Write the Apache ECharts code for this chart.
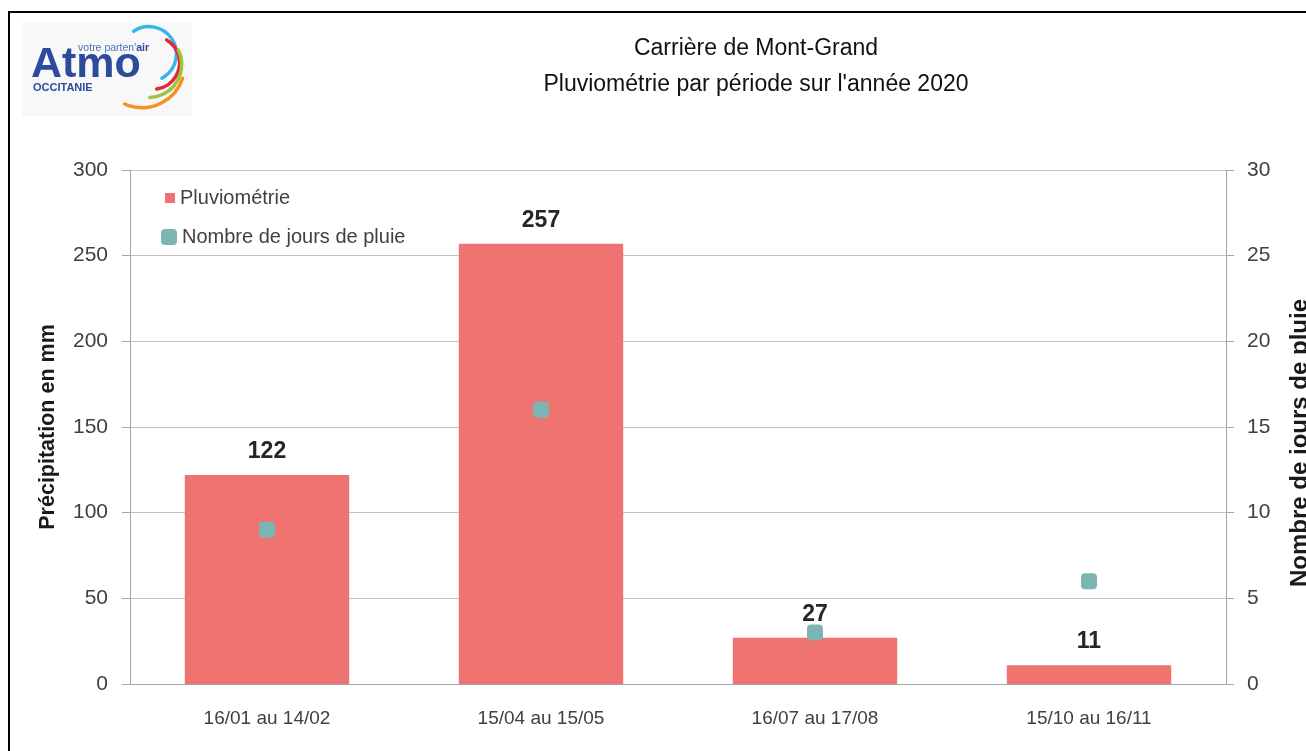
<!DOCTYPE html>
<html lang="fr">
<head>
    <meta charset="UTF-8">
    <title>Carrière de Mont-Grand</title>
    <style>
        * {
            margin: 0;
            padding: 0;
        }

        body {
            background-color: #fff;
        }

        #chart {
            width: 1306px;
            height: 751px;
        }
    </style>
</head>
<body>
<div id="chart"></div>
<script src="https://cdn.jsdelivr.net/npm/echarts@6/dist/echarts.min.js"></script>
<script>
    var categories = ['16/01 au 14/02', '15/04 au 15/05', '16/07 au 17/08', '15/10 au 16/11'];
    var pluviometrie = [122, 257, 27, 11];
    var joursPluie = [9, 16, 3, 6];

    var font = '"Liberation Sans", Arial, sans-serif';
    var deg = Math.PI / 180;

    var mychart = echarts.init(document.getElementById('chart'));
    mychart.setOption({
        backgroundColor: '#fff',
        animation: false,
        title: {
            text: 'Carrière de Mont-Grand\nPluviométrie par période sur l\'année 2020',
            left: 756,
            top: 31,
            padding: 0,
            textAlign: 'center',
            textStyle: {
                fontFamily: font,
                fontWeight: 'normal',
                fontSize: 23,
                lineHeight: 36,
                color: '#111'
            }
        },
        legend: [
            {
                data: ['Pluviométrie'],
                left: 165,
                top: 188,
                padding: 0,
                icon: 'rect',
                itemWidth: 10,
                itemHeight: 10,
                itemGap: 5,
                textStyle: {fontFamily: font, fontSize: 20, color: '#404040'}
            },
            {
                data: ['Nombre de jours de pluie'],
                left: 161,
                top: 227,
                padding: 0,
                icon: 'roundRect',
                itemWidth: 16,
                itemHeight: 16,
                itemGap: 5,
                itemStyle: {opacity: 1},
                textStyle: {fontFamily: font, fontSize: 20, color: '#404040'}
            }
        ],
        grid: {
            left: 130,
            right: 80,
            top: 170,
            bottom: 67,
            outerBoundsMode: 'none'
        },
        xAxis: {
            type: 'category',
            data: categories,
            axisLine: {lineStyle: {color: '#a6a6a6', width: 1}},
            axisTick: {length: 8, lineStyle: {color: '#a6a6a6'}},
            axisLabel: {fontFamily: font, fontSize: 19, color: '#404040', margin: 25}
        },
        yAxis: [
            {
                type: 'value',
                min: 0,
                max: 300,
                interval: 50,
                name: 'Précipitation en mm',
                nameLocation: 'middle',
                nameRotate: 90,
                nameGap: 71,
                nameTextStyle: {fontFamily: font, fontWeight: 'bold', fontSize: 21.5, color: '#1a1a1a'},
                axisLine: {show: true, lineStyle: {color: '#a6a6a6'}},
                axisTick: {show: true, length: 8, lineStyle: {color: '#a6a6a6'}},
                axisLabel: {fontFamily: font, fontSize: 21, color: '#404040', margin: 22},
                splitLine: {lineStyle: {color: '#c4c4c4'}}
            },
            {
                type: 'value',
                min: 0,
                max: 30,
                interval: 5,
                name: 'Nombre de jours de pluie',
                nameLocation: 'middle',
                nameRotate: 90,
                nameGap: 62,
                nameTextStyle: {
                    fontFamily: font, fontWeight: 'bold', fontSize: 24, color: '#1a1a1a',
                    padding: [0, 32, 0, 0]
                },
                axisLine: {show: true, lineStyle: {color: '#a6a6a6'}},
                axisTick: {show: true, length: 8, lineStyle: {color: '#a6a6a6'}},
                axisLabel: {fontFamily: font, fontSize: 21, color: '#404040', margin: 21},
                splitLine: {show: false}
            }
        ],
        series: [
            {
                name: 'Pluviométrie',
                type: 'bar',
                data: pluviometrie,
                barWidth: '60%',
                itemStyle: {color: '#ee7371'},
                label: {
                    show: true,
                    position: 'top',
                    distance: 12,
                    fontFamily: font,
                    fontWeight: 'bold',
                    fontSize: 23,
                    color: '#262626'
                }
            },
            {
                name: 'Nombre de jours de pluie',
                type: 'scatter',
                yAxisIndex: 1,
                data: joursPluie,
                symbol: 'roundRect',
                symbolSize: 16,
                z: 5,
                itemStyle: {color: '#7db5b5', opacity: 1}
            }
        ],
        graphic: [
            {
                type: 'polyline',
                shape: {points: [[9, 751], [9, 12], [1306, 12]]},
                style: {stroke: '#000', lineWidth: 2, fill: null},
                silent: true
            },
            {
                type: 'group',
                silent: true,
                children: [
                    {type: 'rect', shape: {x: 22, y: 23, width: 170, height: 93}, style: {fill: '#f8f8f8'}},
                    {type: 'arc', shape: {cx: 149, cy: 54, r: 27.4, startAngle: -124 * deg, endAngle: 62 * deg},
                        style: {stroke: '#35b6e8', lineWidth: 3.5, fill: null, lineCap: 'round'}},
                    {type: 'arc', shape: {cx: 153, cy: 62.7, r: 26.6, startAngle: -59 * deg, endAngle: 82 * deg},
                        style: {stroke: '#e2263b', lineWidth: 3.5, fill: null, lineCap: 'round'}},
                    {type: 'arc', shape: {cx: 148.7, cy: 64.6, r: 33, startAngle: -26 * deg, endAngle: 88 * deg},
                        style: {stroke: '#9dc53a', lineWidth: 3.5, fill: null, lineCap: 'round'}},
                    {type: 'arc', shape: {cx: 142, cy: 65, r: 42.7, startAngle: 18 * deg, endAngle: 114 * deg},
                        style: {stroke: '#f39325', lineWidth: 3.5, fill: null, lineCap: 'round'}},
                    {type: 'text', x: 31, y: 65, style: {
                        text: 'Atmo', fontFamily: font, fontWeight: 'bold', fontSize: 43,
                        fill: '#2d4a9d', verticalAlign: 'middle'
                    }},
                    {type: 'text', x: 149, y: 48, style: {
                        text: 'votre parten\'{b|air}', fontFamily: font, fontSize: 10.5,
                        fill: '#4d6fb8', align: 'right', verticalAlign: 'middle',
                        rich: {b: {fontFamily: font, fontSize: 10.5, fontWeight: 'bold', fill: '#2d4a9d'}}
                    }},
                    {type: 'text', x: 33, y: 88, style: {
                        text: 'OCCITANIE', fontFamily: font, fontWeight: 'bold', fontSize: 11,
                        fill: '#2d4a9d', verticalAlign: 'middle'
                    }}
                ]
            }
        ]
    });
</script>
</body>
</html>
